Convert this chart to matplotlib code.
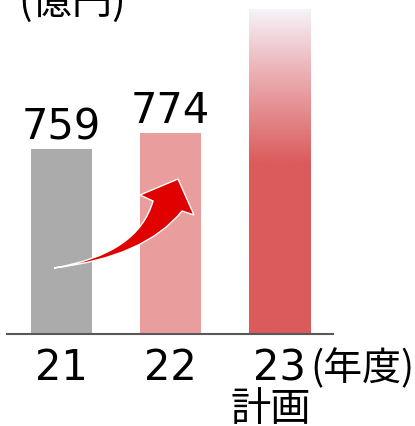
import matplotlib
matplotlib.use('Agg')
import matplotlib.pyplot as plt
import numpy as np
from matplotlib.colors import LinearSegmentedColormap
from matplotlib.patches import PathPatch
from matplotlib.path import Path
from matplotlib.transforms import IdentityTransform

# data
years = ['21', '22', '23']
sales = [759, 774, 891]
labels = ['759', '774', '']
colors = ['#ABABAB', '#EA9D9D', 'none']

W, H = 415, 427
fig = plt.figure(figsize=(W / 100, H / 100), dpi=100)
ax = fig.add_axes([7 / W, 92 / H, 326 / W, 335 / H])

x = np.arange(len(years))
bw = 0.56
bars = ax.bar(x, sales, width=bw, color=colors, bottom=0)

ymin, ymax = 586, 900
# gradient for the plan bar
cmap = LinearSegmentedColormap.from_list(
    'plan', [(0, '#DB5A5B'), (0.52, '#DB5A5B'), (0.8, '#EBAFB3'), (1, '#F6F4FA')])
grad = np.linspace(0, 1, 256).reshape(-1, 1)
im = ax.imshow(grad, cmap=cmap, origin='lower', aspect='auto',
               extent=(x[2] - bw / 2, x[2] + bw / 2, ymin, sales[2]))
im.set_clip_path(bars[2])

for i, lab in enumerate(labels):
    if lab:
        ax.annotate(lab, (x[i], sales[i]), xytext=(0, 1.5), textcoords='offset points',
                    ha='center', va='bottom', fontsize=30, family='DejaVu Sans')

# curved arrow (drawn in pixel coords, y measured from top)
def px(p):
    return (p[0], H - p[1])

pts = [(54, 269), (145, 258), (182, 212), (194, 216), (178, 180),
       (140, 196), (153, 202), (138, 255), (54, 269)]
codes = [Path.MOVETO, Path.CURVE3, Path.CURVE3, Path.LINETO, Path.LINETO,
         Path.LINETO, Path.LINETO, Path.CURVE3, Path.CURVE3]
arrow = PathPatch(Path([px(p) for p in pts], codes), transform=IdentityTransform(),
                  facecolor='#E00000', edgecolor='white', lw=1, zorder=5)
fig.add_artist(arrow)

ax.set_xlim(-0.5, 2.49)
ax.set_ylim(ymin, ymax)
ax.set_xticks(x)
ax.set_xticklabels(years, fontsize=30, family='DejaVu Sans')
ax.tick_params(axis='x', length=0, pad=9)
ax.set_yticks([])
for s in ['top', 'left', 'right']:
    ax.spines[s].set_visible(False)
ax.spines['bottom'].set_color('#595959')
ax.spines['bottom'].set_linewidth(1.5)

jp = ['Noto Sans CJK JP']
fig.text(18 / W, 1 - 14 / H, '(億円)', fontsize=29, family=jp, va='baseline', ha='left')
fig.text(310 / W, 1 - 380 / H, '(年度)', fontsize=28, family=jp, va='baseline', ha='left')
fig.text(271 / W, 1 - 421 / H, '計画', fontsize=29, family=jp, va='baseline', ha='center')

fig.savefig('out.png', dpi=100)
